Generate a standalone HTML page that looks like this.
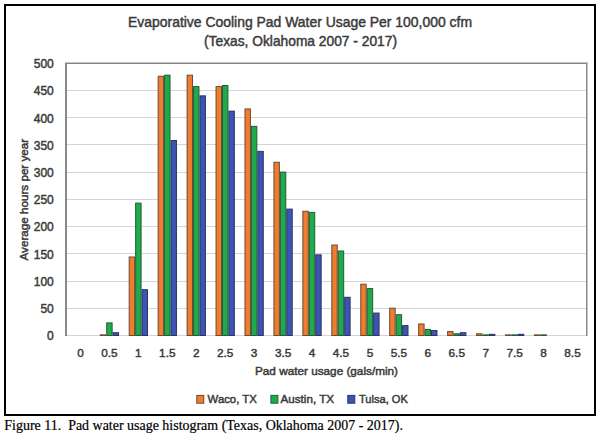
<!DOCTYPE html>
<html><head><meta charset="utf-8"><title>Evaporative Cooling Pad Water Usage</title>
<style>html,body{margin:0;padding:0;background:#fff;}body{width:600px;height:436px;overflow:hidden;position:relative;font-family:"Liberation Sans",sans-serif;}svg{position:absolute;left:0;top:0;display:block;}text{font-family:"Liberation Sans",sans-serif;stroke:#3a3a3a;stroke-width:0.45px;}.serif{stroke:#000;stroke-width:0.2px;}.serif{font-family:"Liberation Serif",serif;}</style></head><body>
<svg width="600" height="436" viewBox="0 0 600 436">
<rect x="0" y="0" width="600" height="436" fill="#fff"/>
<rect x="5" y="5" width="590" height="410" fill="none" stroke="#000" stroke-width="2"/>
<text x="128" y="26.7" font-size="14" fill="#3a3a3a" textLength="344" lengthAdjust="spacingAndGlyphs">Evaporative Cooling Pad Water Usage Per 100,000 cfm</text>
<text x="204" y="46.1" font-size="14" fill="#3a3a3a" textLength="193" lengthAdjust="spacingAndGlyphs">(Texas, Oklahoma 2007 - 2017)</text>
<rect x="67" y="308" width="519" height="1" fill="#d5d5d5"/>
<rect x="67" y="281" width="519" height="1" fill="#d5d5d5"/>
<rect x="67" y="253" width="519" height="1" fill="#d5d5d5"/>
<rect x="67" y="226" width="519" height="1" fill="#d5d5d5"/>
<rect x="67" y="199" width="519" height="1" fill="#d5d5d5"/>
<rect x="67" y="172" width="519" height="1" fill="#d5d5d5"/>
<rect x="67" y="144" width="519" height="1" fill="#d5d5d5"/>
<rect x="67" y="117" width="519" height="1" fill="#d5d5d5"/>
<rect x="67" y="90" width="519" height="1" fill="#d5d5d5"/>
<rect x="67" y="63" width="519" height="1" fill="#d5d5d5"/>
<rect x="67" y="335" width="520" height="1" fill="#d5d5d5"/>
<rect x="100.27" y="334.86" width="5.43" height="0.64" fill="#ef7c2f" stroke="#6b4a33" stroke-width="1"/>
<rect x="106.70" y="322.88" width="5.43" height="12.62" fill="#1eab4c" stroke="#245c36" stroke-width="1"/>
<rect x="113.13" y="332.68" width="5.43" height="2.82" fill="#3c55b2" stroke="#2a3466" stroke-width="1"/>
<rect x="129.21" y="257.01" width="5.43" height="78.49" fill="#ef7c2f" stroke="#6b4a33" stroke-width="1"/>
<rect x="135.65" y="203.11" width="5.43" height="132.39" fill="#1eab4c" stroke="#245c36" stroke-width="1"/>
<rect x="142.08" y="289.67" width="5.43" height="45.83" fill="#3c55b2" stroke="#2a3466" stroke-width="1"/>
<rect x="158.16" y="76.27" width="5.43" height="259.23" fill="#ef7c2f" stroke="#6b4a33" stroke-width="1"/>
<rect x="164.59" y="75.18" width="5.43" height="260.32" fill="#1eab4c" stroke="#245c36" stroke-width="1"/>
<rect x="171.02" y="140.50" width="5.43" height="195.00" fill="#3c55b2" stroke="#2a3466" stroke-width="1"/>
<rect x="187.10" y="75.18" width="5.43" height="260.32" fill="#ef7c2f" stroke="#6b4a33" stroke-width="1"/>
<rect x="193.53" y="86.61" width="5.43" height="248.89" fill="#1eab4c" stroke="#245c36" stroke-width="1"/>
<rect x="199.97" y="95.86" width="5.43" height="239.64" fill="#3c55b2" stroke="#2a3466" stroke-width="1"/>
<rect x="216.05" y="86.61" width="5.43" height="248.89" fill="#ef7c2f" stroke="#6b4a33" stroke-width="1"/>
<rect x="222.48" y="85.52" width="5.43" height="249.98" fill="#1eab4c" stroke="#245c36" stroke-width="1"/>
<rect x="228.91" y="111.11" width="5.43" height="224.39" fill="#3c55b2" stroke="#2a3466" stroke-width="1"/>
<rect x="244.99" y="108.93" width="5.43" height="226.57" fill="#ef7c2f" stroke="#6b4a33" stroke-width="1"/>
<rect x="251.42" y="126.35" width="5.43" height="209.15" fill="#1eab4c" stroke="#245c36" stroke-width="1"/>
<rect x="257.85" y="151.39" width="5.43" height="184.11" fill="#3c55b2" stroke="#2a3466" stroke-width="1"/>
<rect x="273.94" y="162.28" width="5.43" height="173.22" fill="#ef7c2f" stroke="#6b4a33" stroke-width="1"/>
<rect x="280.37" y="172.08" width="5.43" height="163.42" fill="#1eab4c" stroke="#245c36" stroke-width="1"/>
<rect x="286.80" y="209.10" width="5.43" height="126.40" fill="#3c55b2" stroke="#2a3466" stroke-width="1"/>
<rect x="302.88" y="211.28" width="5.43" height="124.22" fill="#ef7c2f" stroke="#6b4a33" stroke-width="1"/>
<rect x="309.31" y="212.37" width="5.43" height="123.13" fill="#1eab4c" stroke="#245c36" stroke-width="1"/>
<rect x="315.74" y="254.83" width="5.43" height="80.67" fill="#3c55b2" stroke="#2a3466" stroke-width="1"/>
<rect x="331.82" y="245.03" width="5.43" height="90.47" fill="#ef7c2f" stroke="#6b4a33" stroke-width="1"/>
<rect x="338.26" y="251.02" width="5.43" height="84.48" fill="#1eab4c" stroke="#245c36" stroke-width="1"/>
<rect x="344.69" y="297.29" width="5.43" height="38.21" fill="#3c55b2" stroke="#2a3466" stroke-width="1"/>
<rect x="360.77" y="284.23" width="5.43" height="51.27" fill="#ef7c2f" stroke="#6b4a33" stroke-width="1"/>
<rect x="367.20" y="288.58" width="5.43" height="46.92" fill="#1eab4c" stroke="#245c36" stroke-width="1"/>
<rect x="373.63" y="313.08" width="5.43" height="22.42" fill="#3c55b2" stroke="#2a3466" stroke-width="1"/>
<rect x="389.71" y="308.18" width="5.43" height="27.32" fill="#ef7c2f" stroke="#6b4a33" stroke-width="1"/>
<rect x="396.15" y="314.71" width="5.43" height="20.79" fill="#1eab4c" stroke="#245c36" stroke-width="1"/>
<rect x="402.58" y="325.60" width="5.43" height="9.90" fill="#3c55b2" stroke="#2a3466" stroke-width="1"/>
<rect x="418.66" y="323.97" width="5.43" height="11.53" fill="#ef7c2f" stroke="#6b4a33" stroke-width="1"/>
<rect x="425.09" y="329.41" width="5.43" height="6.09" fill="#1eab4c" stroke="#245c36" stroke-width="1"/>
<rect x="431.52" y="330.50" width="5.43" height="5.00" fill="#3c55b2" stroke="#2a3466" stroke-width="1"/>
<rect x="447.60" y="331.59" width="5.43" height="3.91" fill="#ef7c2f" stroke="#6b4a33" stroke-width="1"/>
<rect x="454.03" y="333.77" width="5.43" height="1.73" fill="#1eab4c" stroke="#245c36" stroke-width="1"/>
<rect x="460.47" y="332.68" width="5.43" height="2.82" fill="#3c55b2" stroke="#2a3466" stroke-width="1"/>
<rect x="476.55" y="333.77" width="5.43" height="1.73" fill="#ef7c2f" stroke="#6b4a33" stroke-width="1"/>
<rect x="482.98" y="334.86" width="5.43" height="0.64" fill="#1eab4c" stroke="#245c36" stroke-width="1"/>
<rect x="489.41" y="334.31" width="5.43" height="1.19" fill="#3c55b2" stroke="#2a3466" stroke-width="1"/>
<rect x="505.49" y="334.86" width="5.43" height="0.64" fill="#ef7c2f" stroke="#6b4a33" stroke-width="1"/>
<rect x="511.92" y="334.86" width="5.43" height="0.64" fill="#1eab4c" stroke="#245c36" stroke-width="1"/>
<rect x="518.35" y="334.31" width="5.43" height="1.19" fill="#3c55b2" stroke="#2a3466" stroke-width="1"/>
<rect x="534.44" y="334.86" width="5.43" height="0.64" fill="#ef7c2f" stroke="#6b4a33" stroke-width="1"/>
<rect x="540.87" y="334.86" width="5.43" height="0.64" fill="#1eab4c" stroke="#245c36" stroke-width="1"/>
<rect x="65" y="63" width="2" height="273" fill="#8a8a8a"/>
<rect x="65" y="62" width="523" height="1" fill="#c4c4c4"/>
<rect x="65" y="63" width="523" height="1" fill="#858585"/>
<rect x="586" y="63" width="1" height="273" fill="#8e8e8e"/>
<rect x="587" y="63" width="1" height="273" fill="#c0c0c0"/>
<text x="53.8" y="340.30" font-size="12" fill="#3a3a3a" text-anchor="end">0</text>
<text x="53.8" y="313.08" font-size="12" fill="#3a3a3a" text-anchor="end">50</text>
<text x="53.8" y="285.86" font-size="12" fill="#3a3a3a" text-anchor="end">100</text>
<text x="53.8" y="258.64" font-size="12" fill="#3a3a3a" text-anchor="end">150</text>
<text x="53.8" y="231.42" font-size="12" fill="#3a3a3a" text-anchor="end">200</text>
<text x="53.8" y="204.20" font-size="12" fill="#3a3a3a" text-anchor="end">250</text>
<text x="53.8" y="176.98" font-size="12" fill="#3a3a3a" text-anchor="end">300</text>
<text x="53.8" y="149.76" font-size="12" fill="#3a3a3a" text-anchor="end">350</text>
<text x="53.8" y="122.54" font-size="12" fill="#3a3a3a" text-anchor="end">400</text>
<text x="53.8" y="95.32" font-size="12" fill="#3a3a3a" text-anchor="end">450</text>
<text x="53.8" y="68.10" font-size="12" fill="#3a3a3a" text-anchor="end">500</text>
<text x="80.47" y="357.3" font-size="11.8" fill="#3a3a3a" text-anchor="middle">0</text>
<text x="109.42" y="357.3" font-size="11.8" fill="#3a3a3a" text-anchor="middle">0.5</text>
<text x="138.36" y="357.3" font-size="11.8" fill="#3a3a3a" text-anchor="middle">1</text>
<text x="167.31" y="357.3" font-size="11.8" fill="#3a3a3a" text-anchor="middle">1.5</text>
<text x="196.25" y="357.3" font-size="11.8" fill="#3a3a3a" text-anchor="middle">2</text>
<text x="225.19" y="357.3" font-size="11.8" fill="#3a3a3a" text-anchor="middle">2.5</text>
<text x="254.14" y="357.3" font-size="11.8" fill="#3a3a3a" text-anchor="middle">3</text>
<text x="283.08" y="357.3" font-size="11.8" fill="#3a3a3a" text-anchor="middle">3.5</text>
<text x="312.03" y="357.3" font-size="11.8" fill="#3a3a3a" text-anchor="middle">4</text>
<text x="340.97" y="357.3" font-size="11.8" fill="#3a3a3a" text-anchor="middle">4.5</text>
<text x="369.92" y="357.3" font-size="11.8" fill="#3a3a3a" text-anchor="middle">5</text>
<text x="398.86" y="357.3" font-size="11.8" fill="#3a3a3a" text-anchor="middle">5.5</text>
<text x="427.81" y="357.3" font-size="11.8" fill="#3a3a3a" text-anchor="middle">6</text>
<text x="456.75" y="357.3" font-size="11.8" fill="#3a3a3a" text-anchor="middle">6.5</text>
<text x="485.69" y="357.3" font-size="11.8" fill="#3a3a3a" text-anchor="middle">7</text>
<text x="514.64" y="357.3" font-size="11.8" fill="#3a3a3a" text-anchor="middle">7.5</text>
<text x="543.58" y="357.3" font-size="11.8" fill="#3a3a3a" text-anchor="middle">8</text>
<text x="572.53" y="357.3" font-size="11.8" fill="#3a3a3a" text-anchor="middle">8.5</text>
<text x="255" y="374.9" font-size="11" fill="#3a3a3a" textLength="143" lengthAdjust="spacingAndGlyphs">Pad water usage (gals/min)</text>
<text transform="translate(28.2,260.5) rotate(-90)" x="0" y="0" font-size="11.3" fill="#3a3a3a" textLength="121.7" lengthAdjust="spacingAndGlyphs">Average hours per year</text>
<rect x="196.80" y="395.4" width="7" height="7.8" fill="#ef7c2f" stroke="#6b4a33" stroke-width="1"/>
<text x="207.6" y="403.2" font-size="11" fill="#3a3a3a" textLength="49.2" lengthAdjust="spacingAndGlyphs">Waco, TX</text>
<rect x="270.90" y="395.4" width="7" height="7.8" fill="#1eab4c" stroke="#245c36" stroke-width="1"/>
<text x="280.6" y="403.2" font-size="11" fill="#3a3a3a" textLength="53.4" lengthAdjust="spacingAndGlyphs">Austin, TX</text>
<rect x="347.80" y="395.4" width="7" height="7.8" fill="#3c55b2" stroke="#2a3466" stroke-width="1"/>
<text x="359.0" y="403.2" font-size="11" fill="#3a3a3a" textLength="48.8" lengthAdjust="spacingAndGlyphs">Tulsa, OK</text>
<text class="serif" x="4.3" y="429.8" font-size="14" fill="#000" textLength="398.6" lengthAdjust="spacingAndGlyphs" xml:space="preserve">Figure 11.  Pad water usage histogram (Texas, Oklahoma 2007 - 2017).</text>
</svg>
</body></html>
